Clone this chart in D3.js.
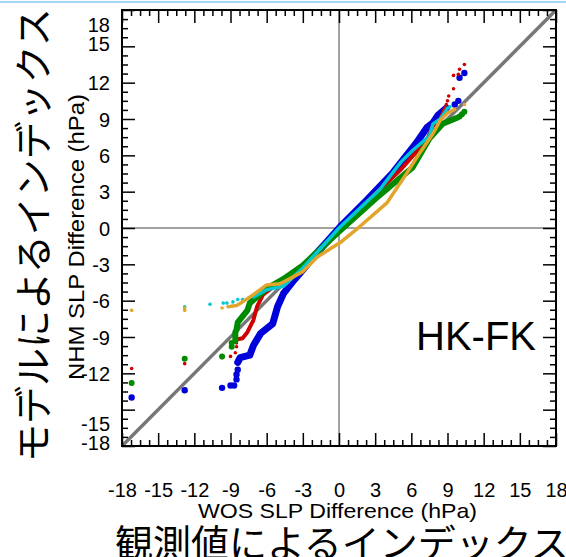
<!DOCTYPE html>
<html><head><meta charset="utf-8">
<script src="https://cdn.jsdelivr.net/npm/d3@7"></script>
<style>body{margin:0;background:#fff;overflow:hidden} svg{display:block}</style>
</head><body>
<script>
// ---- data ----
const tickValues = [-18,-15,-12,-9,-6,-3,0,3,6,9,12,15,18];
const xTitle = "WOS SLP Difference (hPa)";
const yTitle = "NHM SLP Difference (hPa)";
const panelLabel = "HK-FK";
const xJapanese = "観測値によるインデックス";
const yJapanese = "モデルによるインデックス";

const blueBody = [[-8.4,-11.1],[-8.2,-10.7],[-7.4,-10.5],[-7.1,-9.7],[-6.5,-8.7],[-5.5,-7.9],[-5.1,-6.5],[-4.6,-5.4],[-3.9,-4.5],[-3.2,-3.7],[-1.6,-1.8],[0.1,0.1],[2.3,2.3],[4.5,4.6],[6.4,7.0],[7.3,8.3],[7.8,8.7],[8.2,9.3],[8.9,9.9]];
const blueTail = [[-17.2,-14.0],[-12.8,-13.4],[-9.7,-13.2],[-9.0,-13.0],[-8.7,-13.0],[-8.5,-12.5],[-8.5,-12.1],[-8.4,-11.7],[9.6,10.2],[9.9,10.5],[10.0,12.4],[10.4,12.8]];

const redBody = [[-8.5,-9.2],[-8.0,-9.1],[-7.6,-8.6],[-7.1,-7.6],[-6.8,-6.5],[-6.3,-5.5],[-5.1,-4.6],[-3.8,-3.9],[-2.0,-2.2],[0.0,-0.2],[2.8,2.6],[5.1,4.8],[7.3,7.3],[7.8,8.4],[8.4,9.0],[8.8,9.9]];
const redTail = [[-17.2,-11.6],[-12.8,-11.2],[-9.7,-10.7],[-9.0,-10.6],[-8.6,-10.3],[-8.5,-9.8],[-8.5,-9.5],[8.9,10.2],[9.0,10.5],[9.1,10.9],[9.5,11.5],[9.5,12.6],[9.9,12.7],[10.0,13.1],[10.4,13.5]];

const greenBody = [[-8.6,-9.3],[-8.6,-8.6],[-8.5,-8.4],[-8.4,-7.8],[-8.0,-7.3],[-7.6,-6.8],[-7.4,-6.2],[-6.8,-5.7],[-6.0,-5.0],[-4.6,-4.2],[-3.0,-3.1],[0.0,-0.3],[3.0,2.4],[6.1,5.0],[7.5,7.4],[8.6,8.6],[9.3,8.9],[9.8,9.1]];
const greenTail = [[-17.2,-12.8],[-12.8,-10.8],[-9.7,-10.6],[-8.9,-9.8],[-8.9,-9.5],[10.0,9.2],[10.2,9.4],[10.4,9.6]];

const cyanBody = [[-7.1,-5.7],[-6.0,-5.1],[-4.6,-4.8],[-3.0,-3.3],[0.0,0.0],[3.4,3.2],[5.1,5.4],[6.1,6.4],[7.5,7.6],[7.8,8.6],[8.4,9.0],[9.0,9.9]];
const cyanTail = [[-12.8,-6.5],[-10.7,-6.3],[-9.6,-6.2],[-9.3,-6.2],[-8.8,-6.1],[-8.4,-5.9],[-8.0,-5.9],[-7.5,-5.8],[9.2,10.0]];

const orangeBody = [[-9.2,-6.5],[-8.5,-6.4],[-8.0,-6.1],[-7.1,-5.5],[-6.0,-4.7],[-4.9,-4.6],[-4.1,-4.2],[-3.0,-3.6],[-1.8,-2.4],[0.1,-1.2],[1.7,0.1],[4.0,2.1],[5.6,4.5],[6.7,6.2],[7.8,7.8],[8.4,8.9],[9.0,9.5],[9.6,9.8]];
const orangeTail = [[-17.2,-6.8],[-12.8,-6.8],[-12.8,-6.6],[-9.7,-6.6],[10.4,10.2]];

// ---- styles ----
const series = [
  {body: blueBody,   tail: blueTail,   color: "#0000d8", width: 7,   r: 3.2},
  {body: redBody,    tail: redTail,    color: "#d00000", width: 4,   r: 1.8},
  {body: greenBody,  tail: greenTail,  color: "#008a00", width: 6,   r: 3.0},
  {body: cyanBody,   tail: cyanTail,   color: "#00c8d2", width: 3.5, r: 1.8},
  {body: orangeBody, tail: orangeTail, color: "#e2a52c", width: 3.5, r: 1.8}
];
const yLabelNudge = {"18": 14, "15": -3, "-15": 14, "-18": -4};

const W = 566, H = 557;
const L = 122, R = 556, T = 10, B = 446;
const FONT = "'Liberation Sans', Arial, Helvetica, sans-serif";
const JFONT = "'Noto Sans CJK JP', 'Noto Sans CJK SC', sans-serif";
const fmt = d => String(d);

const svg = d3.select("body").append("svg").attr("width", W).attr("height", H);
svg.append("rect").attr("x", 0).attr("y", 1).attr("width", W).attr("height", 2).attr("fill", "#a6d6f7");

const x = d3.scaleLinear().domain([-18, 18]).range([L, R]);
const y = d3.scaleLinear().domain([-18, 18]).range([B, T]);

svg.append("clipPath").attr("id", "clip").append("rect")
  .attr("x", L).attr("y", T).attr("width", R - L).attr("height", B - T);
const plot = svg.append("g").attr("clip-path", "url(#clip)");

// zero lines
plot.append("line").attr("x1", x(0)).attr("x2", x(0)).attr("y1", T).attr("y2", B)
  .attr("stroke", "#444").attr("stroke-width", 1);
plot.append("line").attr("x1", L).attr("x2", R).attr("y1", y(0)).attr("y2", y(0))
  .attr("stroke", "#444").attr("stroke-width", 1);
// 1:1 line
plot.append("line").attr("x1", x(-18)).attr("y1", y(-18)).attr("x2", x(18)).attr("y2", y(18))
  .attr("stroke", "#777").attr("stroke-width", 3.5);

const line = d3.line().x(d => x(d[0])).y(d => y(d[1]));
series.forEach(s => {
  plot.append("path").datum(s.body).attr("d", line).attr("fill", "none")
    .attr("stroke", s.color).attr("stroke-width", s.width)
    .attr("stroke-linejoin", "round").attr("stroke-linecap", "round");
  plot.selectAll(null).data(s.tail).join("circle")
    .attr("cx", d => x(d[0])).attr("cy", d => y(d[1])).attr("r", s.r).attr("fill", s.color);
});

// axes
const major = tickValues;
const minor = d3.range(-18, 18.001, 0.75).filter(v => Math.abs(v / 3 - Math.round(v / 3)) > 1e-6);
function styleAxis(g) {
  g.select(".domain").remove();
  g.selectAll(".tick line").attr("stroke", "#000").attr("stroke-width", 1.5);
  g.selectAll("text").attr("font-family", FONT).attr("font-size", 20).attr("fill", "#000");
}
// bottom
svg.append("g").attr("transform", `translate(0,${B})`)
  .call(d3.axisBottom(x).tickValues(major).tickSizeInner(-13).tickSizeOuter(0).tickPadding(37).tickFormat(fmt))
  .call(styleAxis);
svg.append("g").attr("transform", `translate(0,${B})`)
  .call(d3.axisBottom(x).tickValues(minor).tickSizeInner(-6).tickSizeOuter(0).tickFormat(""))
  .call(styleAxis);
// top
svg.append("g").attr("transform", `translate(0,${T})`)
  .call(d3.axisTop(x).tickValues(major).tickSizeInner(-13).tickSizeOuter(0).tickFormat(""))
  .call(styleAxis);
svg.append("g").attr("transform", `translate(0,${T})`)
  .call(d3.axisTop(x).tickValues(minor).tickSizeInner(-6).tickSizeOuter(0).tickFormat(""))
  .call(styleAxis);
// left
const yl = svg.append("g").attr("transform", `translate(${L},0)`)
  .call(d3.axisLeft(y).tickValues(major).tickSizeInner(-13).tickSizeOuter(0).tickPadding(12).tickFormat(fmt))
  .call(styleAxis);
yl.selectAll(".tick text").attr("y", d => yLabelNudge[String(d)] || 0).attr("dy", "0.36em");
svg.append("g").attr("transform", `translate(${L},0)`)
  .call(d3.axisLeft(y).tickValues(minor).tickSizeInner(-6).tickSizeOuter(0).tickFormat(""))
  .call(styleAxis);
// right
svg.append("g").attr("transform", `translate(${R},0)`)
  .call(d3.axisRight(y).tickValues(major).tickSizeInner(-13).tickSizeOuter(0).tickFormat(""))
  .call(styleAxis);
svg.append("g").attr("transform", `translate(${R},0)`)
  .call(d3.axisRight(y).tickValues(minor).tickSizeInner(-6).tickSizeOuter(0).tickFormat(""))
  .call(styleAxis);

// frame
svg.append("rect").attr("x", L).attr("y", T).attr("width", R - L).attr("height", B - T)
  .attr("fill", "none").attr("stroke", "#000").attr("stroke-width", 2);

// titles
svg.append("text").attr("x", 198).attr("y", 518)
  .attr("textLength", 279).attr("lengthAdjust", "spacingAndGlyphs")
  .attr("font-family", FONT).attr("font-size", 21).text(xTitle);
svg.append("text").attr("transform", `translate(84,380) rotate(-90)`)
  .attr("textLength", 286).attr("lengthAdjust", "spacingAndGlyphs")
  .attr("font-family", FONT).attr("font-size", 22).text(yTitle);
svg.append("text").attr("x", 416).attr("y", 350)
  .attr("font-family", FONT).attr("font-size", 40).text(panelLabel);
svg.append("text").attr("x", 115).attr("y", 557)
  .attr("font-family", JFONT).attr("font-size", 38).text(xJapanese);
svg.append("text").attr("transform", `translate(47,462) rotate(-90)`)
  .attr("font-family", JFONT).attr("font-size", 38).text(yJapanese);
</script>
</body></html>
